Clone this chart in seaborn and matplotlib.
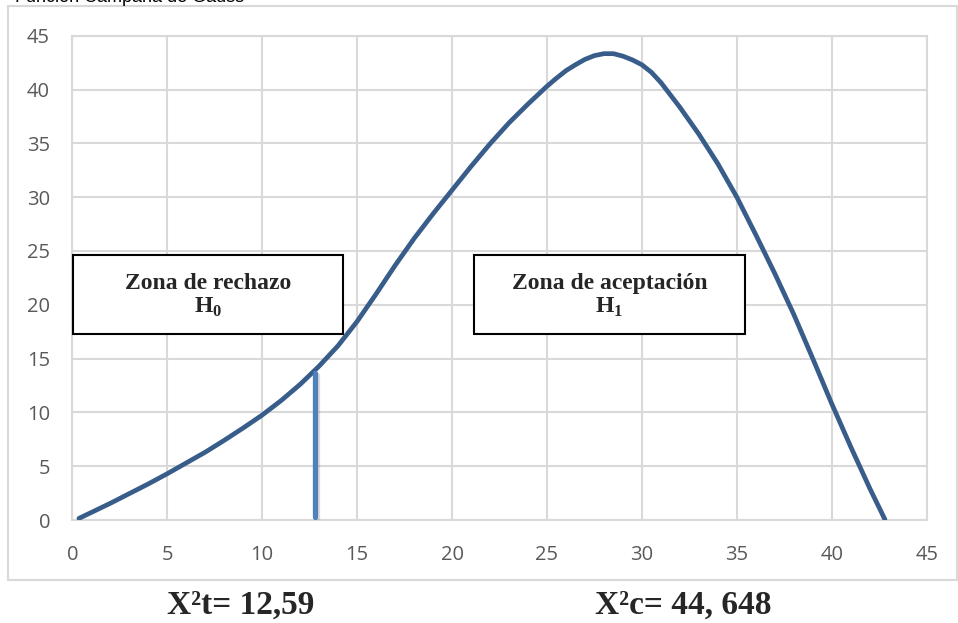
import numpy as np
import pandas as pd
import seaborn as sns
import matplotlib.pyplot as plt
from matplotlib.patches import Rectangle
import matplotlib.patheffects as pe

# curve (x, y)
curve_x = [0.35, 1, 2, 3, 4, 5, 6, 7, 8, 9, 10, 11, 12, 13, 14, 15, 16, 17, 18,
           19, 20, 21, 22, 23, 24, 25, 25.5, 26, 26.5, 27, 27.5, 28, 28.5, 29,
           29.5, 30, 30.5, 31, 32, 33, 34, 35, 36, 37, 38, 39, 40, 41, 42, 42.8]
curve_y = [0.15, 0.7, 1.55, 2.45, 3.35, 4.3, 5.3, 6.3, 7.4, 8.55, 9.75, 11.1,
           12.6, 14.3, 16.2, 18.45, 21.0, 23.65, 26.15, 28.45, 30.65, 32.85,
           34.95, 36.9, 38.65, 40.3, 41.05, 41.75, 42.3, 42.8, 43.15, 43.33,
           43.33, 43.1, 42.75, 42.3, 41.6, 40.65, 38.35, 35.85, 33.1, 30.0,
           26.5, 22.9, 19.1, 15.0, 10.8, 6.8, 2.95, 0.05]

# critical value line
crit_x = [12.8, 12.8]
crit_y = [0.3, 13.65]

ticks = list(range(0, 50, 5))
zone_labels = ['Zona de rechazo\nH$_{\\mathbf{0}}$', 'Zona de aceptación\nH$_{\\mathbf{1}}$']
bottom_labels = ['X²t= 12,59', 'X²c= 44, 648']


def main():
    sns.set_theme(style='whitegrid')
    plt.rcParams['font.family'] = ['Open Sans', 'DejaVu Sans']
    plt.rcParams['mathtext.fontset'] = 'custom'
    plt.rcParams['mathtext.rm'] = 'Liberation Serif'
    plt.rcParams['mathtext.bf'] = 'Liberation Serif:bold'

    W, H = 958, 623
    fig = plt.figure(figsize=(W / 100, H / 100), dpi=100)
    fig.patch.set_facecolor('white')

    # outer chart frame
    fig.patches.append(Rectangle((8 / W, 1 - 580 / H), (957 - 8) / W, (580 - 6) / H,
                                 transform=fig.transFigure, fill=False,
                                 edgecolor='#D9D9D9', lw=1.5))

    # title, cut off at the very top like in the original
    fig.text(15 / W, 1 - 1.5 / H, 'Función Campana de Gauss', fontsize=13,
             family='Liberation Sans', color='#000000', va='baseline', ha='left')

    ax = fig.add_axes([72.3 / W, 1 - 520 / H, (926.7 - 72.3) / W, (520 - 35.7) / H])
    ax.set_facecolor('white')

    df = pd.DataFrame({'x': curve_x, 'y': curve_y})
    sns.lineplot(data=df, x='x', y='y', ax=ax, color='#385D8A', lw=3.4,
                 sort=False, estimator=None, zorder=3)
    ax.lines[-1].set_solid_joinstyle('round')

    crit = pd.DataFrame({'x': crit_x, 'y': crit_y})
    sns.lineplot(data=crit, x='x', y='y', ax=ax, color='#4F81BD', lw=3.8,
                 sort=False, estimator=None, zorder=3,
                 path_effects=[pe.SimpleLineShadow(offset=(1.5, -1.5), alpha=0.15), pe.Normal()])

    ax.set_xlim(0, 45)
    ax.set_ylim(0, 45)
    ax.set_xticks(ticks)
    ax.set_yticks(ticks)
    ax.grid(True, color='#D9D9D9', lw=1.5)
    for s in ax.spines.values():
        s.set_visible(True)
        s.set_color('#D9D9D9')
        s.set_linewidth(1.5)
    ax.tick_params(axis='both', length=0, labelsize=14.5, labelcolor='#595959')
    ax.tick_params(axis='x', pad=18)
    ax.tick_params(axis='y', pad=16)
    ax.set_xlabel('')
    ax.set_ylabel('')

    # zone boxes (pixel positions -> figure coords)
    boxes = [(73, 343), (474, 745)]
    for (x0, x1), lab in zip(boxes, zone_labels):
        fig.patches.append(Rectangle((x0 / W, 1 - 334 / H), (x1 - x0) / W, (334 - 255) / H,
                                     transform=fig.transFigure, facecolor='white',
                                     edgecolor='black', lw=1.5, zorder=5))
        fig.text((x0 + x1) / 2 / W, 1 - 296 / H, lab, ha='center', va='center',
                 fontsize=17, family='Liberation Serif', weight='bold',
                 linespacing=1.1, zorder=6)

    # bottom labels
    for cx, lab in zip([241, 683], bottom_labels):
        fig.text(cx / W, 1 - 614 / H, lab, ha='center', va='baseline',
                 fontsize=24, family='Liberation Serif', weight='bold')

    fig.savefig('out.png', dpi=100)


if __name__ == "__main__":
    main()
